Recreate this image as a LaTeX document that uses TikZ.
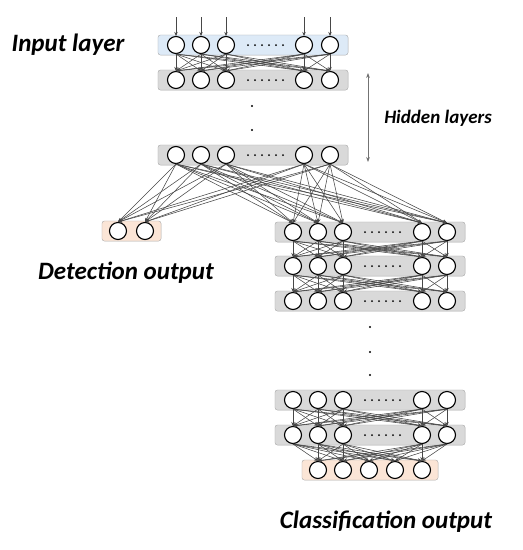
\documentclass[tikz,border=0pt]{standalone}
\usepackage{fontspec}
\setmainfont{Carlito}
\usetikzlibrary{arrows.meta, positioning, fit, backgrounds}
\definecolor{inblue}{RGB}{221,234,247}
\definecolor{hidgray}{RGB}{217,217,217}
\definecolor{outpeach}{RGB}{251,229,214}
\definecolor{boxedge}{RGB}{170,170,170}

\begin{document}
\begin{tikzpicture}[x=1pt, y=-1pt,
    neuron/.style={circle, draw=black, line width=1.1pt, fill=white, minimum size=17pt, inner sep=0pt},
    layerbox/.style={rectangle, draw=boxedge, fill=#1, rounded corners=2.5pt, inner xsep=9pt, inner ysep=1pt},
    conn/.style={-{Stealth[length=4pt, width=3.5pt]}, draw=black!72, line width=0.55pt},
    label/.style={text=black}
]
    \useasboundingbox (0,0) rectangle (523,550);

    % left block: input and hidden layers
    \foreach \n/\x in {1/176, 2/201, 3/226, 4/304, 5/330} {
        \node[neuron] (I\n) at (\x,45) {};
        \node[neuron] (H\n) at (\x,80) {};
        \node[neuron] (G\n) at (\x,155) {};
        \coordinate (in\n) at (\x,17);
        \draw[conn] (in\n) -- (I\n);
    }
    % right block: classification branch
    \foreach \n/\x in {1/293, 2/318, 3/343, 4/422, 5/447} {
        \node[neuron] (A\n) at (\x,232) {};
        \node[neuron] (B\n) at (\x,266) {};
        \node[neuron] (C\n) at (\x,301) {};
        \node[neuron] (E\n) at (\x,400) {};
        \node[neuron] (F\n) at (\x,435) {};
    }
    \foreach \n/\x in {1/318, 2/343, 3/369, 4/395, 5/422}
        \node[neuron] (O\n) at (\x,470) {};
    \node[neuron] (D1) at (118,231) {};
    \node[neuron] (D2) at (145,231) {};

    % layer boxes
    \begin{scope}[on background layer]
        \node[layerbox=inblue, fit=(I1)(I5)] (boxI) {};
        \node[layerbox=hidgray, fit=(H1)(H5)] (boxH) {};
        \node[layerbox=hidgray, fit=(G1)(G5)] (boxG) {};
        \node[layerbox=outpeach, fit=(D1)(D2), inner xsep=7pt] (boxD) {};
        \node[layerbox=hidgray, fit=(A1)(A5)] (boxA) {};
        \node[layerbox=hidgray, fit=(B1)(B5)] (boxB) {};
        \node[layerbox=hidgray, fit=(C1)(C5)] (boxC) {};
        \node[layerbox=hidgray, fit=(E1)(E5)] (boxE) {};
        \node[layerbox=hidgray, fit=(F1)(F5)] (boxF) {};
        \node[layerbox=outpeach, fit=(O1)(O5), inner xsep=7pt] (boxO) {};
    \end{scope}

    % dots inside the layers
    \foreach \y in {45,80,155}
        \foreach \k in {0,...,5} \fill (248+7*\k,\y) circle (1pt);
    \foreach \y in {232,266,301,400,435}
        \foreach \k in {0,...,5} \fill (365+7*\k,\y) circle (1pt);
    % skipped layers
    \foreach \y in {106,130} \fill (252,\y) circle (1.1pt);
    \foreach \y in {327,352,375} \fill (370,\y) circle (1.1pt);

    % connections
    \foreach \i in {1,...,5} {
        \foreach \j in {1,...,5} {
            \draw[conn] (I\i.south) -- (H\j.north);
            \draw[conn] (G\i.south) -- (A\j.north);
            \draw[conn] (A\i.south) -- (B\j.north);
            \draw[conn] (B\i.south) -- (C\j.north);
            \draw[conn] (E\i.south) -- (F\j.north);
            \draw[conn] (F\i.south) -- (O\j.north);
        }
        \draw[conn] (G\i.south) -- (D1.north);
        \draw[conn] (G\i.south) -- (D2.north);
    }

    % labels
    \node[label, font=\fontsize{25}{30}\selectfont\bfseries\itshape] (inlabel) at (68,45) {Input layer};
    \node[label, font=\fontsize{25}{30}\selectfont\bfseries\itshape] (detlabel) at (126,273) {Detection output};
    \node[label, font=\fontsize{25}{30}\selectfont\bfseries\itshape] (clslabel) at (386,522) {Classification output};
    \node[label, font=\fontsize{19}{23}\selectfont\bfseries\itshape] (hidlabel) at (438,118) {Hidden layers};
    \coordinate (hidtop) at (368,73);
    \coordinate (hidbot) at (368,162);
    \draw[{Stealth[length=5pt]}-{Stealth[length=5pt]}, draw=black!55, line width=0.8pt] (hidtop) -- (hidbot);
\end{tikzpicture}
\end{document}
